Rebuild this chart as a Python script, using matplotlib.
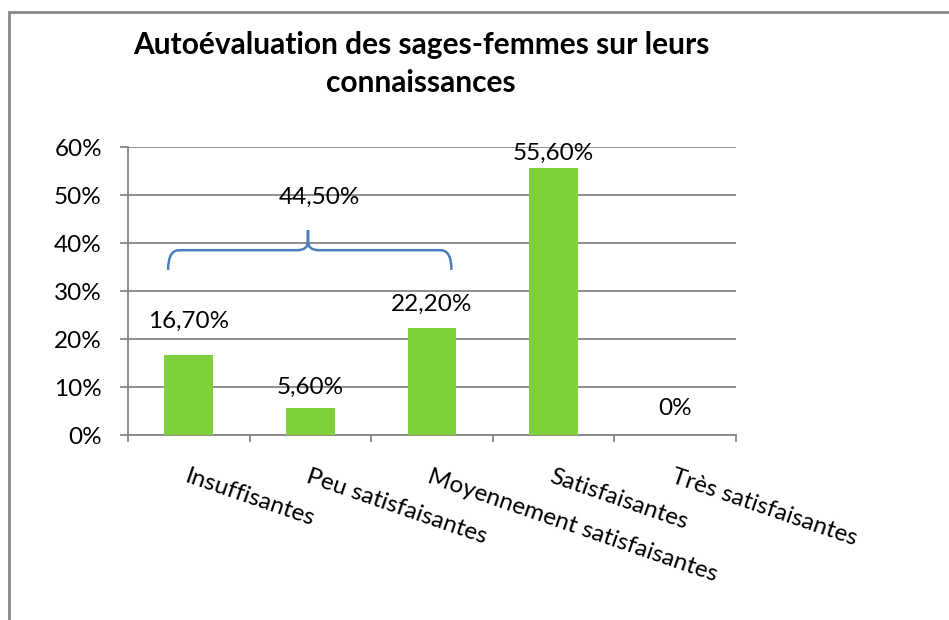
import matplotlib
matplotlib.use("Agg")
import matplotlib.pyplot as plt
from matplotlib.path import Path
from matplotlib.patches import PathPatch, Rectangle
from matplotlib.ticker import FuncFormatter, FixedLocator
import matplotlib.transforms as mtransforms

categories = ["Insuffisantes", "Peu satisfaisantes", "Moyennement satisfaisantes",
              "Satisfaisantes", "Très satisfaisantes"]
values = [16.7, 5.6, 22.2, 55.6, 0.0]
value_labels = ["16,70%", "5,60%", "22,20%", "55,60%", "0%"]
group_label = "44,50%"
title_lines = ["Autoévaluation des sages-femmes sur leurs", "connaissances"]
yticks = [0, 10, 20, 30, 40, 50, 60]

# label positions (style: vertical offset above bars, in % units)
label_offsets = [7.0, 4.3, 5.0, 3.0, 5.5]

plt.rcParams['font.family'] = ['Lato', 'DejaVu Sans']

fig = plt.figure(figsize=(9.49, 6.2), dpi=100)
ax = fig.add_axes([128/949, 1-435/620, (736-128)/949, (435-147)/620])

grid_col = "#868686"
fs = 17.5
x = list(range(len(categories)))
ax.bar(x, values, width=0.4, color="#7fd13b", zorder=3)

ax.set_xlim(-0.5, len(categories)-0.5)
ax.set_ylim(0, 60)
ax.yaxis.set_major_locator(FixedLocator(yticks))
ax.yaxis.set_major_formatter(FuncFormatter(lambda v, p: f"{int(v)}%"))
ax.grid(axis='y', color=grid_col, linewidth=1.3, zorder=0)
for s in ['top', 'right']:
    ax.spines[s].set_visible(False)
for s in ['left', 'bottom']:
    ax.spines[s].set_color(grid_col)
    ax.spines[s].set_linewidth(1.3)
ax.tick_params(axis='y', direction='out', length=5.8, width=1.3, color=grid_col,
               labelsize=fs, pad=13, labelcolor='black')
ax.set_xticks([i + 0.5 for i in range(-1, len(categories))])
ax.set_xticklabels([])
ax.tick_params(axis='x', direction='out', length=5, width=1.3, color=grid_col)

# category labels, rotated, starting at category center
offset = mtransforms.ScaledTranslation(0, -31/100, fig.dpi_scale_trans)
trans = mtransforms.blended_transform_factory(ax.transData, ax.transAxes) + offset
for i, c in enumerate(categories):
    ax.text(i, 0, c, transform=trans, rotation=-19, rotation_mode='anchor',
            ha='left', va='top', fontsize=fs, clip_on=False)

# value labels
for i, (v, lab, off) in enumerate(zip(values, value_labels, label_offsets)):
    ax.text(i, v + off, lab, ha='center', va='center', fontsize=fs, zorder=4)

# brace over first three bars
x0, x1 = -0.17, 2.16
xm = 0.98
ylow, yflat, ypeak = 34.4, 38.5, 42.7
dx, dy = 0.09, 1.8
verts = [(x0, ylow), (x0, yflat), (x0 + dx, yflat),
         (xm - dx, yflat), (xm, yflat), (xm, yflat + dy),
         (xm, ypeak), (xm, yflat + dy),
         (xm, yflat), (xm + dx, yflat),
         (x1 - dx, yflat), (x1, yflat), (x1, ylow)]
codes = [Path.MOVETO, Path.CURVE3, Path.CURVE3,
         Path.LINETO, Path.CURVE3, Path.CURVE3,
         Path.LINETO, Path.LINETO,
         Path.CURVE3, Path.CURVE3,
         Path.LINETO, Path.CURVE3, Path.CURVE3]
ax.add_patch(PathPatch(Path(verts, codes), fill=False, edgecolor="#4a7ebb",
                       linewidth=1.8, zorder=5, clip_on=False))
ax.text(1.07, 49.6, group_label, ha='center', va='center', fontsize=fs, zorder=5)

for k, (line, yc) in enumerate(zip(title_lines, [45, 83])):
    fig.text(421/949, 1-yc/620, line, ha='center', va='center', fontsize=21.5,
             fontweight='bold')

# outer frame
fig.add_artist(Rectangle((9/949, -0.1), 1.2, 1.1 - 12/620, transform=fig.transFigure,
                         fill=False, edgecolor="#878787", linewidth=2))

fig.savefig("out.png", dpi=100)
